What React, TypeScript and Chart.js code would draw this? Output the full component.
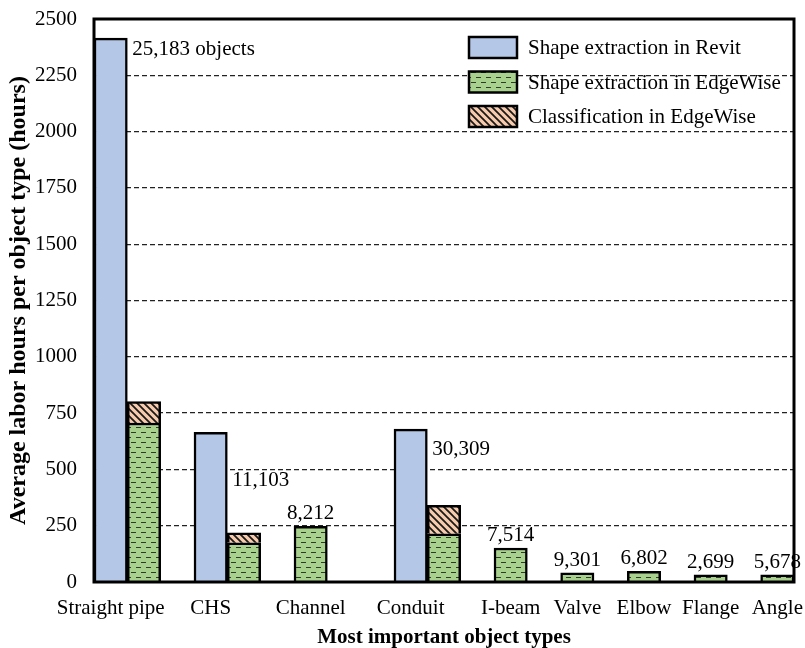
import React, { useEffect, useRef } from 'react';
import { Chart, registerables } from 'chart.js';

Chart.register(...registerables);

// ---- data ----
const objectTypes = ['Straight pipe', 'CHS', 'Channel', 'Conduit', 'I-beam', 'Valve', 'Elbow', 'Flange', 'Angle'];
const revitHours: (number | null)[] = [2415, 665, null, 679, null, null, null, null, null];
const edgeShapeHours: (number | null)[] = [706, 174, 247, 214, 151, 41, 47, 32, 32];
const edgeClassHours: (number | null)[] = [95, 44, null, 126, null, null, null, null, null];
const objectCounts = ['25,183 objects', '11,103', '8,212', '30,309', '7,514', '9,301', '6,802', '2,699', '5,678'];
const seriesNames = ['Shape extraction in Revit', 'Shape extraction in EdgeWise', 'Classification in EdgeWise'];
const yMax = 2500;
const yStep = 250;

// ---- layout (not data) ----
const gapSlotsAfter = [1, 1, 2, 1, 1, 1, 1, 1, 0];
const revitLabelDrop = [17, 54, 0, 26];

const FONT = '"Liberation Serif", "Times New Roman", serif';

function makeGreen(): CanvasPattern | string {
  const c = document.createElement('canvas');
  c.width = 10; c.height = 10;
  const g = c.getContext('2d');
  if (!g) return '#a9d18e';
  g.fillStyle = '#a9d18e';
  g.fillRect(0, 0, 10, 10);
  g.strokeStyle = '#2e3a2a';
  g.lineWidth = 1;
  g.beginPath();
  g.moveTo(1, 2.5); g.lineTo(6, 2.5);
  g.moveTo(6, 7.5); g.lineTo(10, 7.5);
  g.moveTo(0, 7.5); g.lineTo(1, 7.5);
  g.stroke();
  return g.createPattern(c, 'repeat') || '#a9d18e';
}

function makeOrange(): CanvasPattern | string {
  const s = 7;
  const c = document.createElement('canvas');
  c.width = s; c.height = s;
  const g = c.getContext('2d');
  if (!g) return '#f8cbad';
  g.fillStyle = '#f8cbad';
  g.fillRect(0, 0, s, s);
  g.strokeStyle = '#1a1a1a';
  g.lineWidth = 1.8;
  g.beginPath();
  g.moveTo(-1, -1); g.lineTo(s + 1, s + 1);
  g.moveTo(-1, s - 1); g.lineTo(1, s + 1);
  g.moveTo(s - 1, -1); g.lineTo(s + 1, 1);
  g.stroke();
  return g.createPattern(c, 'repeat') || '#f8cbad';
}

export default function App() {
  const ref = useRef<HTMLCanvasElement | null>(null);

  useEffect(() => {
    document.body.style.margin = '0';
    const canvas = ref.current;
    if (!canvas) return;

    // build slot layout
    const labels: string[] = [];
    const revitData: (number | null)[] = [];
    const shapeData: (number | null)[] = [];
    const classData: (number | null)[] = [];
    const slotOf: { revit: number; edge: number }[] = [];
    const pushSlot = (label: string, r: number | null, s: number | null, c: number | null) => {
      labels.push(label); revitData.push(r); shapeData.push(s); classData.push(c);
      return labels.length - 1;
    };
    objectTypes.forEach((name, i) => {
      let revit = -1;
      let first = true;
      if (revitHours[i] != null) {
        revit = pushSlot(name, revitHours[i], null, null);
        first = false;
      }
      const edge = pushSlot(first ? name : '', null, edgeShapeHours[i], edgeClassHours[i]);
      slotOf.push({ revit, edge });
      for (let k = 0; k < gapSlotsAfter[i]; k++) pushSlot('', null, null, null);
    });

    const green = makeGreen();
    const orange = makeOrange();
    const blue = '#b4c7e7';
    const fills = [blue, green, orange];

    const framePlugin = {
      id: 'frame',
      afterDatasetsDraw(chart: any) {
        const { ctx, chartArea: a } = chart;
        ctx.save();
        ctx.strokeStyle = '#000';
        ctx.lineWidth = 3;
        ctx.strokeRect(a.left, a.top, a.right - a.left, a.bottom - a.top);
        ctx.restore();
      },
    };

    const countLabels = {
      id: 'countLabels',
      afterDatasetsDraw(chart: any) {
        const ctx = chart.ctx;
        ctx.save();
        ctx.font = `21px ${FONT}`;
        ctx.fillStyle = '#000';
        ctx.textBaseline = 'alphabetic';
        objectTypes.forEach((_, i) => {
          const s = slotOf[i];
          if (s.revit >= 0) {
            const el = chart.getDatasetMeta(0).data[s.revit];
            ctx.textAlign = 'left';
            ctx.fillText(objectCounts[i], el.x + el.width / 2 + 5, el.y + revitLabelDrop[i]);
          } else {
            const el = chart.getDatasetMeta(1).data[s.edge];
            ctx.textAlign = 'center';
            ctx.fillText(objectCounts[i], el.x, el.y - 7);
          }
        });
        ctx.restore();
      },
    };

    const legendPlugin = {
      id: 'customLegend',
      afterDatasetsDraw(chart: any) {
        const ctx = chart.ctx;
        const a = chart.chartArea;
        const x0 = a.left + 375;
        const y0 = a.top + 18;
        const w = 48, h = 21, step = 34.5;
        ctx.save();
        seriesNames.forEach((name, i) => {
          const y = y0 + i * step;
          ctx.fillStyle = fills[i];
          ctx.fillRect(x0, y, w, h);
          ctx.strokeStyle = '#000';
          ctx.lineWidth = 2.5;
          ctx.strokeRect(x0, y, w, h);
          ctx.fillStyle = '#000';
          ctx.font = `21px ${FONT}`;
          ctx.textAlign = 'left';
          ctx.textBaseline = 'middle';
          ctx.fillText(name, x0 + w + 11, y + h / 2 + 1);
        });
        ctx.restore();
      },
    };

    const common = {
      borderColor: '#000',
      borderWidth: 2.5,
      barPercentage: 1,
      categoryPercentage: 1,
      stack: 'all',
    };

    const chart = new Chart(canvas, {
      type: 'bar',
      data: {
        labels,
        datasets: [
          { ...common, label: seriesNames[0], data: revitData, backgroundColor: blue },
          { ...common, label: seriesNames[1], data: shapeData, backgroundColor: green as any },
          { ...common, label: seriesNames[2], data: classData, backgroundColor: orange as any },
        ],
      },
      options: {
        animation: false,
        responsive: true,
        maintainAspectRatio: false,
        layout: { padding: { top: 19, right: 11, left: 0, bottom: 0 } },
        plugins: {
          legend: { display: false },
          tooltip: { enabled: false },
        },
        scales: {
          x: {
            stacked: true,
            grid: { display: false, drawTicks: false },
            border: { display: false },
            ticks: {
              autoSkip: false,
              maxRotation: 0,
              minRotation: 0,
              padding: 14,
              color: '#000',
              font: { family: FONT, size: 21 },
            },
            title: {
              display: true,
              text: 'Most important object types',
              color: '#000',
              font: { family: FONT, size: 21, weight: 'bold', lineHeight: 1 },
              padding: { top: 0, bottom: 0 },
            },
            afterFit: (s: any) => {
              s.height = 66;
              s.paddingLeft = 0;
              s.paddingRight = 0;
            },
          },
          y: {
            stacked: true,
            min: 0,
            max: yMax,
            grid: {
              drawTicks: false,
              lineWidth: 1.3,
              color: (c: any) => (c.tick && (c.tick.value === 0 || c.tick.value === yMax) ? 'rgba(0,0,0,0)' : '#222'),
            },
            border: { display: false, dash: [5, 3] },
            ticks: {
              stepSize: yStep,
              padding: 17,
              color: '#000',
              font: { family: FONT, size: 21 },
              callback: (v: any) => String(v),
            },
            title: {
              display: true,
              text: 'Average labor hours per object type (hours)',
              color: '#000',
              font: { family: FONT, size: 24, weight: 'bold' },
              padding: { top: 4, bottom: 0 },
            },
            afterFit: (s: any) => {
              s.width = 94;
              s.paddingTop = 0;
              s.paddingBottom = 0;
            },
          },
        },
      } as any,
      plugins: [framePlugin, countLabels, legendPlugin],
    });

    return () => chart.destroy();
  }, []);

  return (
    <div style={{ position: 'absolute', left: 0, top: 0, width: 805, height: 648 }}>
      <canvas ref={ref} />
    </div>
  );
}
